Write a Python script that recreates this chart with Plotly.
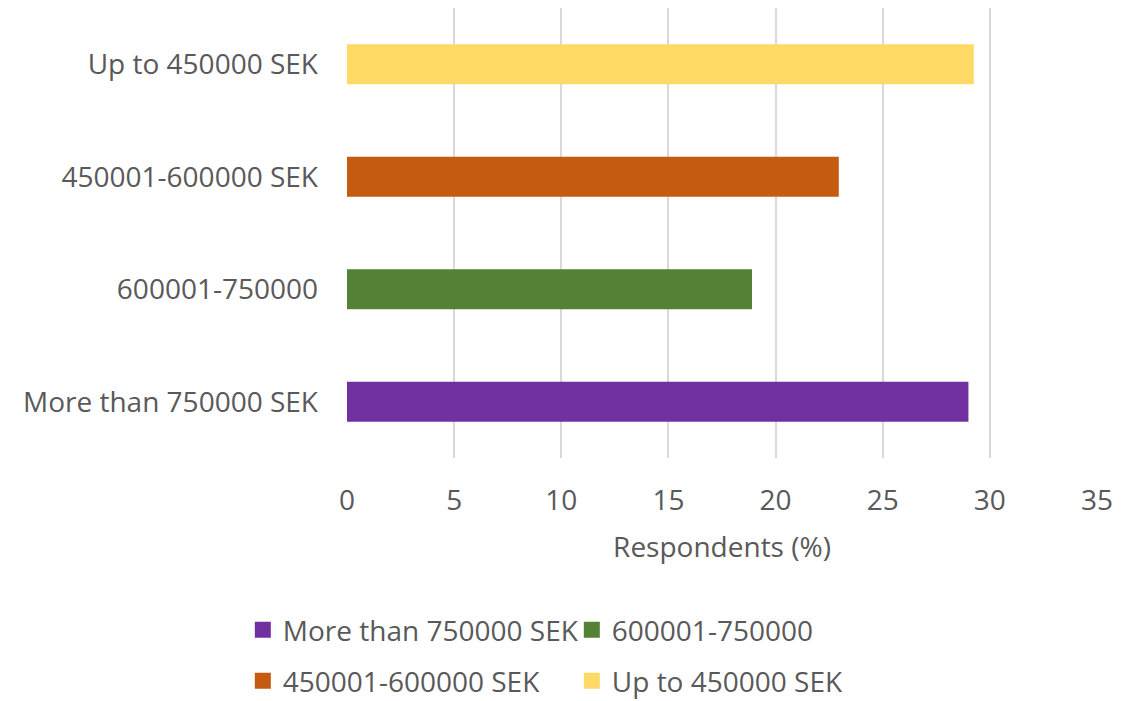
import plotly.graph_objects as go

categories = ["More than 750000 SEK", "600001-750000", "450001-600000 SEK", "Up to 450000 SEK"]
values = [29.0, 18.9, 22.95, 29.25]
colors = ["#7030A0", "#538135", "#C55A11", "#FFD966"]
legend_groups = ["legend", "legend", "legend2", "legend2"]
x_ticks = [0, 5, 10, 15, 20, 25, 30, 35]

FONT = "'Open Sans', sans-serif"
GRAY = "#595959"
FS = 28

fig = go.Figure()
for cat, val, col in zip(categories, values, colors):
    fig.add_trace(go.Bar(
        y=[cat], x=[val], name=cat, orientation="h", showlegend=False,
        marker=dict(color=col, line=dict(width=0)), width=0.356,
    ))
# legend entries (square keys like the reference)
for cat, col, lg in zip(categories, colors, legend_groups):
    fig.add_trace(go.Scatter(
        x=[None], y=[None], mode="markers", name=cat, legend=lg, showlegend=True,
        marker=dict(symbol="square", size=18, color=col, line=dict(width=0)),
        hoverinfo="skip",
    ))

legend_common = dict(
    orientation="h", xref="container", yref="container",
    xanchor="left", yanchor="middle", entrywidth=284, entrywidthmode="pixels",
    font=dict(size=FS, color=GRAY, family=FONT), traceorder="normal",
    itemsizing="trace", bgcolor="rgba(0,0,0,0)",
)

fig.update_layout(
    width=1140, height=701,
    margin=dict(l=347, r=43, t=8, b=243),
    paper_bgcolor="white", plot_bgcolor="white",
    barmode="overlay",
    font=dict(family=FONT, color=GRAY, size=FS),
    xaxis=dict(
        range=[0, 35], tickvals=x_ticks, showgrid=True, gridcolor="#D9D9D9", gridwidth=2,
        zeroline=False, showline=False, ticks="", tickfont=dict(size=FS, color=GRAY),
        ticklabelstandoff=23,
        title=dict(text="Respondents (%)", font=dict(size=FS, color=GRAY), standoff=20),
    ),
    yaxis=dict(
        categoryorder="array", categoryarray=categories, showgrid=False, zeroline=False,
        showline=False, ticks="", tickfont=dict(size=FS, color=GRAY), ticklabelstandoff=28,
    ),
    legend=dict(x=0.213, y=1 - 630 / 701, **legend_common),
    legend2=dict(x=0.213, y=1 - 681 / 701, **legend_common),
    showlegend=True,
)

fig.write_html("out.html")
